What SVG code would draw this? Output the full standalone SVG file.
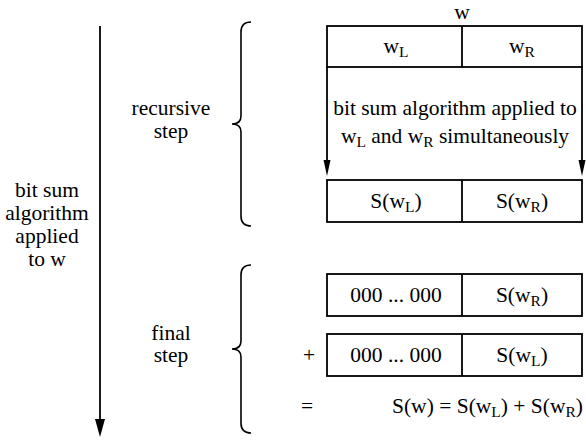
<svg xmlns="http://www.w3.org/2000/svg" width="586" height="441" viewBox="0 0 586 441">
<style>
text{font-family:"Liberation Serif","Times New Roman",serif;font-size:21.5px;fill:#000}
.c{text-anchor:middle}
.box{fill:none;stroke:#000;stroke-width:1.8}
.ln{fill:none;stroke:#000;stroke-width:1.8}
.br{fill:none;stroke:#000;stroke-width:1.6}
.sub{font-size:15.5px}
</style>
<g id="connectors">
<line class="ln" x1="100" y1="26" x2="100" y2="421"/>
<path d="M95 419 L105 419 L100 437 Z" fill="#000"/>
<line class="ln" x1="327" y1="67" x2="327" y2="162"/>
<path d="M323.5 160 L330.5 160 L327 176 Z" fill="#000"/>
<line class="ln" x1="582" y1="67" x2="582" y2="162"/>
<path d="M578.5 160 L585.5 160 L582 176 Z" fill="#000"/>
</g>
<g id="left-label">
<text class="c" x="47" y="197">bit sum</text>
<text class="c" x="47" y="220">algorithm</text>
<text class="c" x="47" y="243">applied</text>
<text class="c" x="47" y="266">to w</text>
</g>
<g id="recursive-label">
<text class="c" x="171" y="115">recursive</text>
<text class="c" x="171" y="138">step</text>
<path class="br" d="M251 22 C244 22 241 25 241 32 L241 116 C241 121 238 124 232 124 C238 124 241 127 241 132 L241 216 C241 223 244 226 251 226"/>
</g>
<g id="final-label">
<text class="c" x="171" y="340">final</text>
<text class="c" x="171" y="362">step</text>
<path class="br" d="M251 265 C244 265 241 268 241 275 L241 341 C241 346 238 349 232 349 C238 349 241 352 241 357 L241 423 C241 430 244 433 251 433"/>
</g>
<g id="word-w">
<text class="c" x="462" y="19">w</text>
<rect class="box" x="327" y="26" width="255" height="41"/>
<line class="ln" x1="462" y1="26" x2="462" y2="67"/>
<text class="c" x="396" y="53">w<tspan class="sub" dy="4">L</tspan></text>
<text class="c" x="522" y="53">w<tspan class="sub" dy="4">R</tspan></text>
</g>
<g id="recursion-text">
<text class="c" x="455" y="115">bit sum algorithm applied to</text>
<text class="c" x="455" y="143">w<tspan class="sub" dy="4">L</tspan><tspan dy="-4"> and w</tspan><tspan class="sub" dy="4">R</tspan><tspan dy="-4"> simultaneously</tspan></text>
</g>
<g id="result-box">
<rect class="box" x="327" y="180" width="255" height="42"/>
<line class="ln" x1="462" y1="180" x2="462" y2="222"/>
<text class="c" x="396" y="208">S(w<tspan class="sub" dy="4">L</tspan><tspan dy="-4">)</tspan></text>
<text class="c" x="522" y="208">S(w<tspan class="sub" dy="4">R</tspan><tspan dy="-4">)</tspan></text>
</g>
<g id="shifted-right">
<rect class="box" x="327" y="274" width="255" height="42"/>
<line class="ln" x1="462" y1="274" x2="462" y2="316"/>
<text class="c" x="396" y="302">000 ... 000</text>
<text class="c" x="522" y="302">S(w<tspan class="sub" dy="4">R</tspan><tspan dy="-4">)</tspan></text>
</g>
<g id="shifted-left">
<text class="c" x="309" y="362">+</text>
<rect class="box" x="327" y="334" width="255" height="42"/>
<line class="ln" x1="462" y1="334" x2="462" y2="376"/>
<text class="c" x="396" y="362">000 ... 000</text>
<text class="c" x="522" y="362">S(w<tspan class="sub" dy="4">L</tspan><tspan dy="-4">)</tspan></text>
</g>
<g id="sum">
<text class="c" x="307" y="413">=</text>
<text x="583" y="413" text-anchor="end">S(w) = S(w<tspan class="sub" dy="4">L</tspan><tspan dy="-4">) + S(w</tspan><tspan class="sub" dy="4">R</tspan><tspan dy="-4">)</tspan></text>
</g>
</svg>
